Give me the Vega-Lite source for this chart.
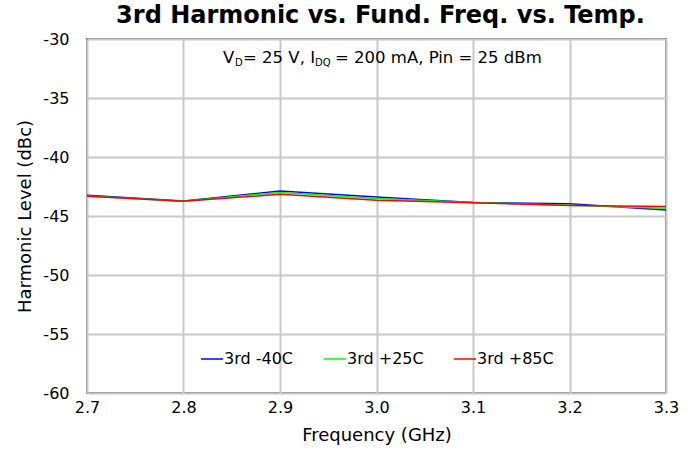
{
  "$schema": "https://vega.github.io/schema/vega-lite/v6.json",
  "width": 579,
  "height": 354,
  "autosize": {"type": "none"},
  "padding": {"left": 87, "top": 39, "right": 33, "bottom": 67},
  "background": "white",
  "title": {
    "text": "3rd Harmonic vs. Fund. Freq. vs. Temp.",
    "font": "DejaVu Sans",
    "fontSize": 24,
    "fontWeight": "bold",
    "color": "#000000",
    "anchor": "middle",
    "offset": 3,
    "dx": 4
  },
  "config": {
    "view": {"stroke": "#808080", "strokeWidth": 2},
    "axis": {
      "labelFont": "DejaVu Sans",
      "titleFont": "DejaVu Sans",
      "labelColor": "#000000",
      "titleColor": "#000000",
      "labelFontSize": 16,
      "titleFontSize": 18,
      "titleFontWeight": "normal",
      "gridColor": "#c8c8c8",
      "gridWidth": 2,
      "gridOpacity": 1,
      "domain": false,
      "ticks": false
    },
    "legend": {
      "labelFont": "DejaVu Sans",
      "labelFontSize": 16,
      "labelColor": "#000000"
    }
  },
  "datasets": {
    "curves": [
      {"freq": 2.7, "level": -43.25, "series": "3rd -40C"},
      {"freq": 2.8, "level": -43.72, "series": "3rd -40C"},
      {"freq": 2.9, "level": -42.88, "series": "3rd -40C"},
      {"freq": 3.0, "level": -43.39, "series": "3rd -40C"},
      {"freq": 3.1, "level": -43.85, "series": "3rd -40C"},
      {"freq": 3.2, "level": -43.96, "series": "3rd -40C"},
      {"freq": 3.3, "level": -44.49, "series": "3rd -40C"},
      {"freq": 2.7, "level": -43.3, "series": "3rd +25C"},
      {"freq": 2.8, "level": -43.74, "series": "3rd +25C"},
      {"freq": 2.9, "level": -43.0, "series": "3rd +25C"},
      {"freq": 3.0, "level": -43.52, "series": "3rd +25C"},
      {"freq": 3.1, "level": -43.86, "series": "3rd +25C"},
      {"freq": 3.2, "level": -44.08, "series": "3rd +25C"},
      {"freq": 3.3, "level": -44.35, "series": "3rd +25C"},
      {"freq": 2.7, "level": -43.33, "series": "3rd +85C"},
      {"freq": 2.8, "level": -43.75, "series": "3rd +85C"},
      {"freq": 2.9, "level": -43.16, "series": "3rd +85C"},
      {"freq": 3.0, "level": -43.67, "series": "3rd +85C"},
      {"freq": 3.1, "level": -43.88, "series": "3rd +85C"},
      {"freq": 3.2, "level": -44.1, "series": "3rd +85C"},
      {"freq": 3.3, "level": -44.2, "series": "3rd +85C"}
    ],
    "note": [
      {"freq": 2.8409, "level": -31.57, "text": "V", "kind": "main"},
      {"freq": 2.8534, "level": -32.06, "text": "D", "kind": "sub"},
      {"freq": 2.8617, "level": -31.57, "text": "= 25 V, I", "kind": "main"},
      {"freq": 2.9363, "level": -32.06, "text": "DQ", "kind": "sub"},
      {"freq": 2.957, "level": -31.57, "text": "= 200 mA, Pin = 25 dBm", "kind": "main"}
    ]
  },
  "layer": [
    {
      "data": {"name": "curves"},
      "mark": {"type": "line", "strokeWidth": 1.5},
      "encoding": {
        "x": {
          "field": "freq",
          "type": "quantitative",
          "scale": {"domain": [2.7, 3.3], "nice": false, "zero": false},
          "axis": {
            "values": [2.7, 2.8, 2.9, 3.0, 3.1, 3.2, 3.3],
            "format": ".1f",
            "title": "Frequency (GHz)",
            "labelPadding": 6,
            "titlePadding": 11,
            "labelFlush": false
          }
        },
        "y": {
          "field": "level",
          "type": "quantitative",
          "scale": {"domain": [-60, -30], "nice": false, "zero": false},
          "axis": {
            "values": [-60, -55, -50, -45, -40, -35, -30],
            "labelExpr": "toString(datum.value)",
            "title": "Harmonic Level (dBc)",
            "labelPadding": 18,
            "titlePadding": 8
          }
        },
        "color": {
          "field": "series",
          "type": "nominal",
          "sort": ["3rd -40C", "3rd +25C", "3rd +85C"],
          "scale": {"domain": ["3rd -40C", "3rd +25C", "3rd +85C"], "range": ["#0000ff", "#00ff00", "#ff0000"]},
          "legend": {
            "title": null,
            "orient": "none",
            "legendX": 113,
            "legendY": 308,
            "direction": "horizontal",
            "symbolType": "stroke",
            "symbolSize": 484,
            "symbolStrokeWidth": 1.5,
            "labelOffset": 0,
            "columnPadding": 27
          }
        }
      }
    },
    {
      "data": {"name": "note"},
      "mark": {"type": "text", "align": "left", "baseline": "middle", "font": "DejaVu Sans", "color": "#000000"},
      "encoding": {
        "x": {"field": "freq", "type": "quantitative"},
        "y": {"field": "level", "type": "quantitative"},
        "text": {"field": "text"},
        "size": {
          "field": "kind",
          "type": "nominal",
          "scale": {"domain": ["main", "sub"], "range": [16.5, 10]},
          "legend": null
        }
      }
    }
  ]
}
